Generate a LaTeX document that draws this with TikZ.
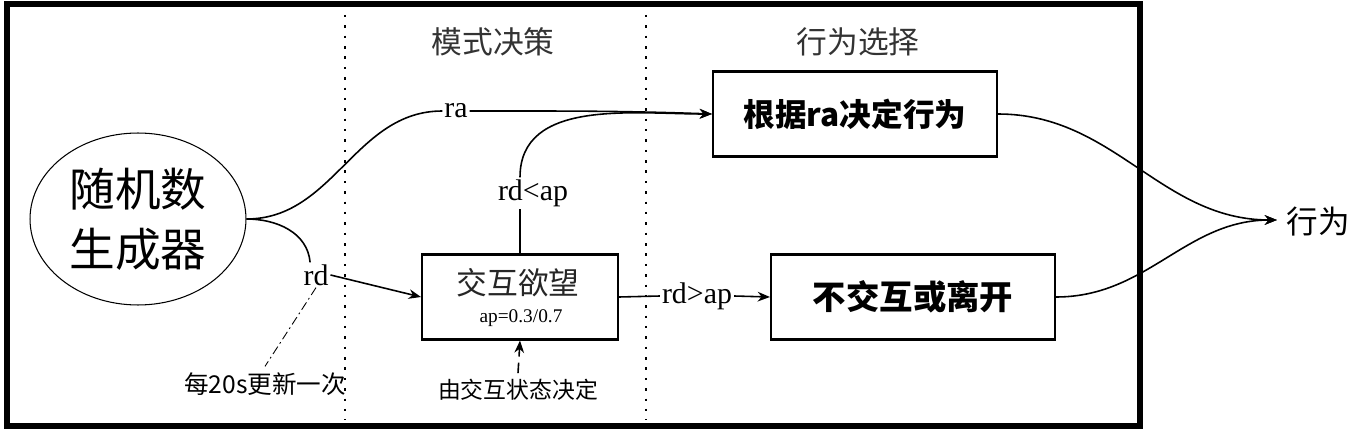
\documentclass[tikz,border=0pt]{standalone}
\usepackage{fontspec}
\setmainfont{Liberation Serif}
\newfontfamily\cjk{Noto Sans CJK SC}
\usetikzlibrary{shapes.geometric}
\usetikzlibrary{positioning}
\usetikzlibrary{arrows.meta}

\begin{document}
\begin{tikzpicture}[x=0.02cm,y=-0.02cm,
    stage/.style={draw,line width=1.2pt,minimum width=5.5cm,minimum height=1.7cm,inner sep=0pt},
    flow/.style={line width=0.9pt},
    tip/.style={flow,arrows=-{Stealth[length=7pt,width=5.5pt]}},
    cond/.style={inner sep=1pt,font=\fontsize{17}{17}\selectfont}]

            \useasboundingbox (0,0) rectangle (1370,429);
            %\draw [help lines] (0,0) grid (1370,429);

            \draw[line width=3.4pt] (7,4) rectangle (1140,426);
            \draw[line width=1.4pt,dash pattern=on 1.4pt off 4.5pt] (345,15) -- (345,420);
            \draw[line width=1.4pt,dash pattern=on 1.4pt off 4.5pt] (646,15) -- (646,420);

            \path   (138,219) node (gen) [ellipse,draw,line width=0.6pt,minimum width=4.32cm,minimum height=3.44cm,align=center,font=\cjk\fontsize{26}{34}\selectfont] {随机数\\生成器}
                    (493,42) node (mode) [font=\cjk\fontsize{17.5}{17.5}\selectfont,text=black!80] {模式决策}
                    (858,42) node (choice) [font=\cjk\fontsize{17.5}{17.5}\selectfont,text=black!80] {行为选择}
                    (855,114) node (act) [stage,minimum width=5.68cm] {\bfseries\cjk\fontsize{18}{18}\selectfont 根据ra决定行为}
                    (520,297) node (desire) [stage,minimum width=3.92cm] {}
                    (913,297) node (leave) [stage,minimum width=5.68cm] {\bfseries\cjk\fontsize{19}{19}\selectfont 不交互或离开}
                    (518,283) node (desiretxt) [font=\cjk\fontsize{17.5}{17.5}\selectfont,text=black!85] {交互欲望}
                    (521,318) node (aptxt) [font=\fontsize{11}{11}\selectfont] {ap=0.3/0.7}
                    (456,111) node (ra) [cond] {ra}
                    (316,275) node (rd) [cond] {rd}
                    (533,193) node (lt) [cond] {rd<ap}
                    (697,296) node (gt) [cond] {rd>ap}
                    (265,384) node (note) [font=\cjk\fontsize{14}{14}\selectfont] {每20s更新一次}
                    (518,390) node (state) [font=\cjk\fontsize{13}{13}\selectfont] {由交互状态决定}
                    (1277,220) coordinate (out)
                    (1318,222) node (res) [font=\cjk\fontsize{18}{18}\selectfont] {行为};

            \draw[flow] (gen.east) to[out=0,in=180] (ra.west);
            \draw[tip] (ra.east) to[out=0,in=178] (act.west);
            \draw[flow] (gen.east) to[out=0,in=95] (rd.115);
            \draw[tip] (rd.east) -- (desire.west);
            \draw[flow] (desire.north) -- (desire.north |- lt.south);
            \draw[tip] (lt.north -| desire.north) to[out=90,in=180] (act.west);
            \draw[flow] (desire.east) -- (gt.west);
            \draw[tip] (gt.east) -- (leave.west);
            \draw[tip] (act.east) to[out=0,in=180] (out);
            \draw[tip] (leave.east) to[out=0,in=180] (out);
            \draw[line width=0.5pt,dash pattern=on 5pt off 2pt on 1pt off 2pt] (rd.south) -- (note.north);
            \draw[tip,line width=0.9pt,dash pattern=on 6pt off 3.5pt] (state.north) -- (desire.south);

\end{tikzpicture}
\end{document}
